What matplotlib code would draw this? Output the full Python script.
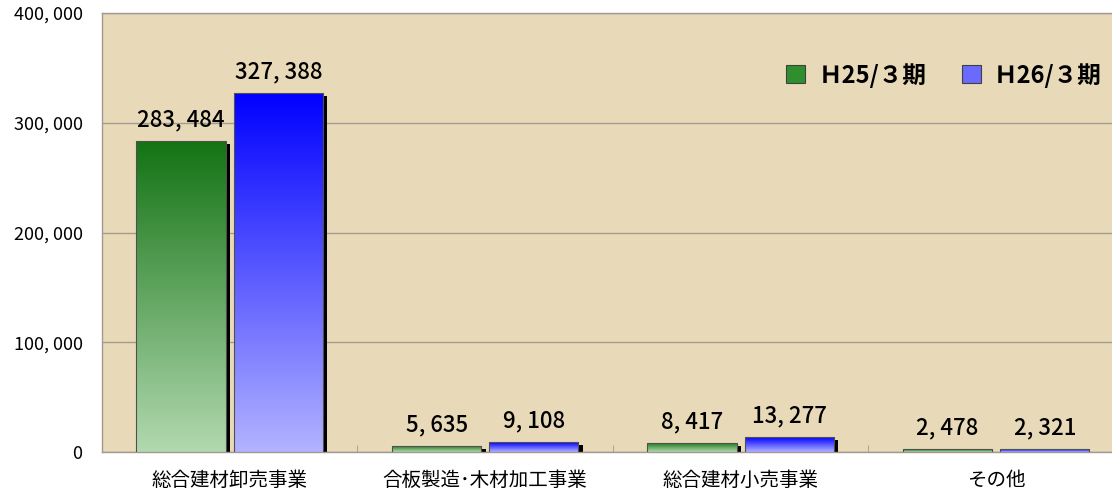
import matplotlib
matplotlib.use("Agg")
import matplotlib.pyplot as plt
import numpy as np
from matplotlib.patches import Patch
from matplotlib import patheffects as pe
from matplotlib.colors import LinearSegmentedColormap

plt.rcParams['font.family'] = ['Noto Sans CJK JP', 'DejaVu Sans']

categories = ["総合建材卸売事業", "合板製造･木材加工事業", "総合建材小売事業", "その他"]
series_names = ["Ｈ25/３期", "Ｈ26/３期"]
h25 = [283484, 5635, 8417, 2478]
h26 = [327388, 9108, 13277, 2321]
yticks = [0, 100000, 200000, 300000, 400000]

top_colors = ['#137313', '#0000ff']
bot_colors = ['#b2d9b0', '#b3b3ff']
legend_colors = ['#2f8f2f', '#6a6aff']

fig = plt.figure(figsize=(11.12, 4.96), dpi=100)
ax = fig.add_axes([0.0917, 0.0887, 0.919, 0.885])
ax.set_facecolor('#e8dab9')

x = np.arange(len(categories))
width = 0.35
offsets = [-0.19, 0.19]

for si, vals in enumerate([h25, h26]):
    cmap = LinearSegmentedColormap.from_list('g%d' % si, [bot_colors[si], top_colors[si]])
    bars = ax.bar(x + offsets[si], vals, width, color=bot_colors[si], zorder=2,
                  path_effects=[pe.SimplePatchShadow(offset=(3, -2), shadow_rgbFace='black', alpha=1.0),
                                pe.Normal()])
    for b, v in zip(bars, vals):
        x0 = b.get_x()
        grad = np.linspace(0, 1, 256).reshape(-1, 1)
        im = ax.imshow(grad, extent=(x0, x0 + width, 0, v), origin='lower', aspect='auto',
                       cmap=cmap, zorder=3, interpolation='bilinear')
        im.set_clip_path(b)
        ax.annotate(f"{v:,}".replace(",", ", "), (x0 + width / 2, v), xytext=(0, 7),
                    textcoords='offset points', ha='center', va='bottom',
                    fontsize=16, fontweight='medium', color='black', zorder=5)
    ax.bar(x + offsets[si], vals, width, facecolor='none', edgecolor='#505050', lw=0.8, zorder=4)

ax.set_xlim(-0.5, 3.5)
ax.set_ylim(0, 400000)
ax.set_yticks(yticks)
ax.set_yticklabels([f"{t:,}".replace(",", ", ") for t in yticks], fontsize=13)
ax.set_xticks(x)
ax.set_xticklabels(categories, fontsize=14)
ax.set_xticks([0.5, 1.5, 2.5], minor=True)
ax.tick_params(axis='both', which='major', length=0)
ax.tick_params(axis='y', pad=14)
ax.tick_params(axis='x', pad=13)
ax.tick_params(axis='x', which='minor', direction='in', length=5, color='#a09a90')
ax.yaxis.grid(True, color='#a39b8f', lw=1.0, zorder=1)
ax.set_axisbelow(True)
for s in ax.spines.values():
    s.set_color('#a09a90')
    s.set_linewidth(1.0)

handles = [Patch(facecolor=legend_colors[i], edgecolor='#404040', lw=0.8) for i in range(2)]
leg = ax.legend(handles, series_names, ncol=2, loc='upper left', bbox_to_anchor=(0.649, 0.935),
                frameon=False, prop={'size': 17, 'weight': 'bold'}, handlelength=0.8,
                handleheight=0.8, handletextpad=0.55, columnspacing=1.5)

fig.savefig('out.png', dpi=100)
